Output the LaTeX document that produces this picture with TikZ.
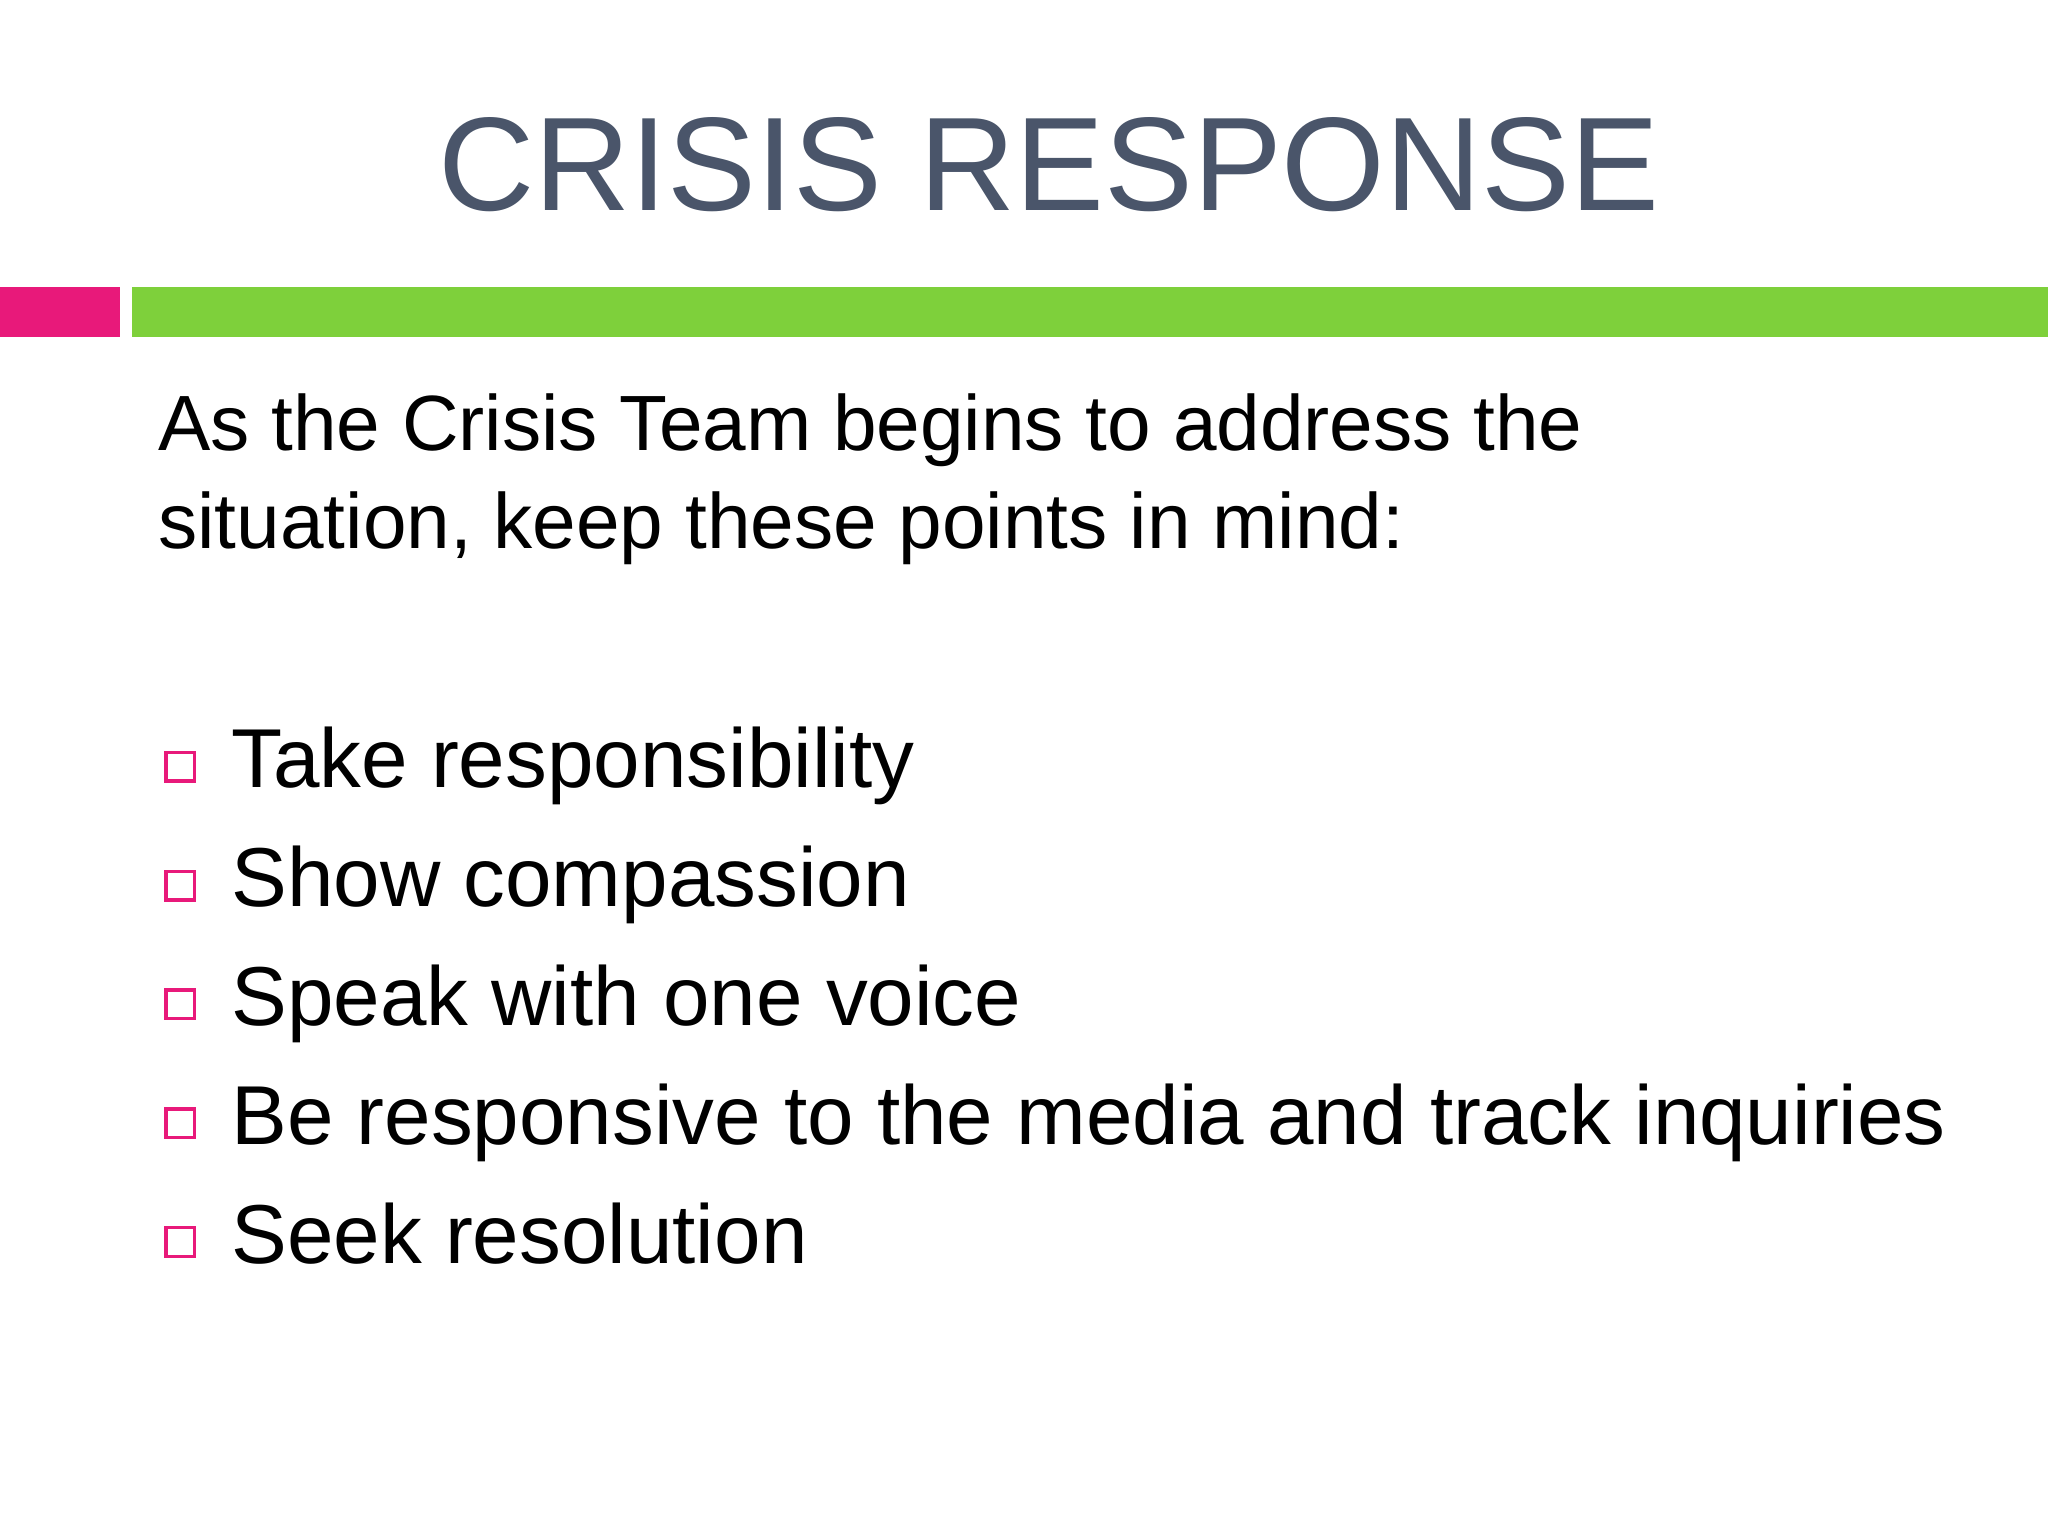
\documentclass[tikz,border=0pt]{standalone}
\usepackage{fontspec}
\setmainfont{Liberation Sans}
\definecolor{titlec}{RGB}{74,85,106}
\definecolor{pinkc}{RGB}{232,25,122}
\definecolor{greenc}{RGB}{126,208,59}
\begin{document}
\begin{tikzpicture}[x=1pt,y=-1pt,
  item/.style={anchor=base west,font=\fontsize{64}{70}\selectfont,inner sep=0},
  box/.style={draw=pinkc,line width=2.5pt}]
\useasboundingbox[fill=white] (0,0) rectangle (1568,1176);
\node[anchor=base,text=titlec,font=\fontsize{102}{110}\selectfont,inner sep=0] (title) at (803,161) {CRISIS RESPONSE};
\fill[pinkc] (0,220) rectangle (92,258);
\fill[greenc] (101,220) rectangle (1568,258);
\node[anchor=base west,font=\fontsize{60}{75}\selectfont,inner sep=0] (intro) at (121,345) {As the Crisis Team begins to address the};
\node[anchor=base west,font=\fontsize{60}{75}\selectfont,inner sep=0] (intro2) at (121,420) {situation, keep these points in mind:};
\foreach \y/\t [count=\i] in {603/Take responsibility,694/Show compassion,785/Speak with one voice,876/Be responsive to the media and track inquiries,967/Seek resolution}{
  \draw[box] (127,\y-27) rectangle (149,\y-5);
  \node[item] (it\i) at (177,\y) {\t};
}
\end{tikzpicture}
\end{document}
